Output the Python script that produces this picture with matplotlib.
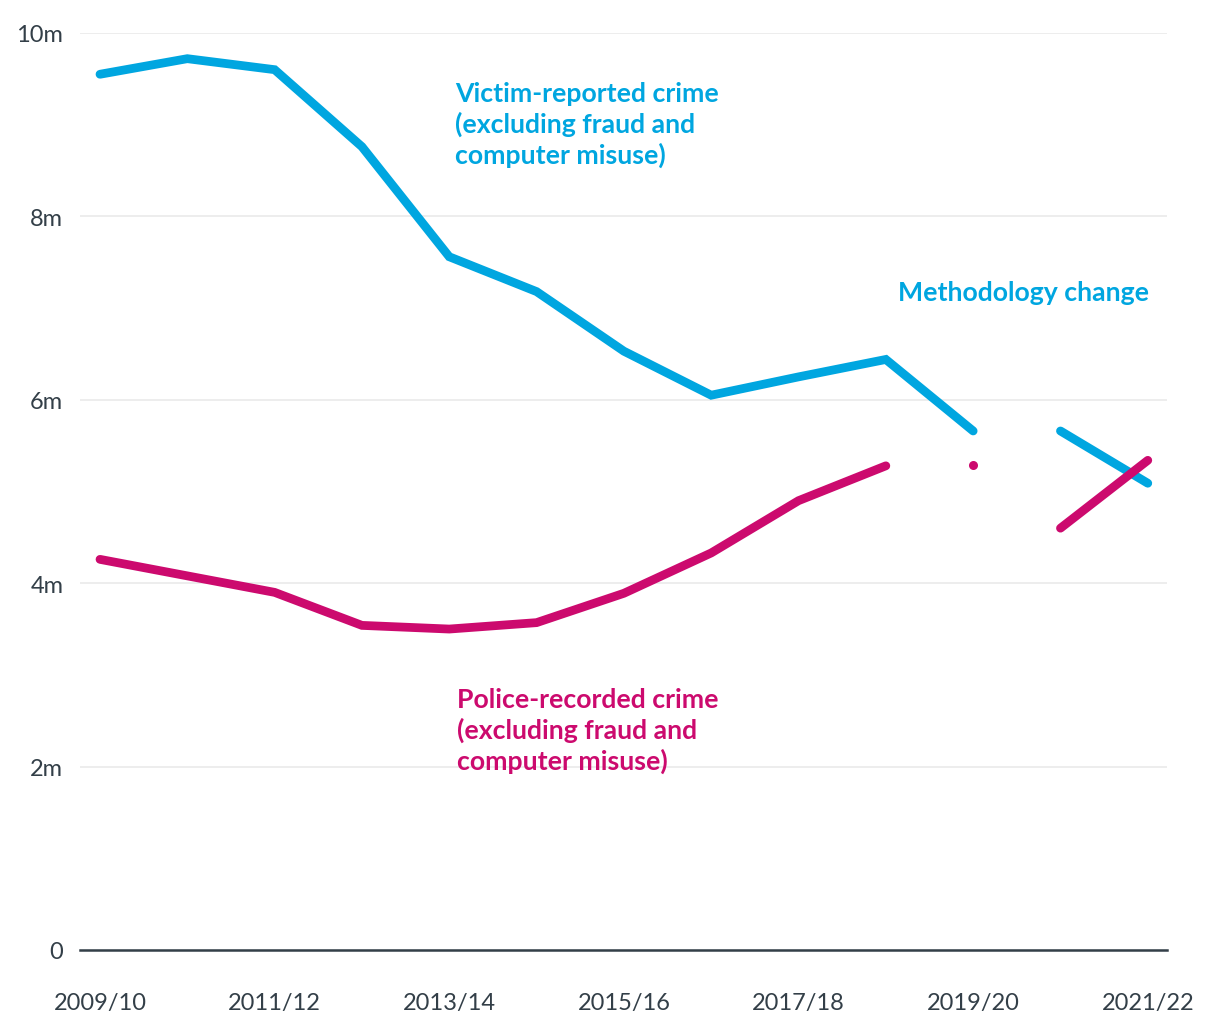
import matplotlib
matplotlib.use("Agg")
import matplotlib.pyplot as plt
import numpy as np

years = ["2009/10", "2010/11", "2011/12", "2012/13", "2013/14", "2014/15", "2015/16",
         "2016/17", "2017/18", "2018/19", "2019/20", "2020/21", "2021/22"]
victim = [9.55, 9.72, 9.60, 8.76, 7.56, 7.18, 6.53, 6.05, 6.25, 6.44, 5.66, 5.66, 5.09]
police = [4.26, 4.08, 3.90, 3.54, 3.50, 3.57, 3.89, 4.33, 4.90, 5.28, 5.29, 4.60, 5.34]
# continuous runs (start index, end index exclusive)
victim_runs = [(0, 11), (11, 13)]
police_runs = [(0, 10), (10, 11), (11, 13)]
yticks = [0, 2, 4, 6, 8, 10]
ytick_labels = ["0", "2m", "4m", "6m", "8m", "10m"]

BLUE = "#00a6e0"
PINK = "#cc0a6e"
DARK = "#333f48"
plt.rcParams["font.family"] = ["Lato", "DejaVu Sans"]

fig = plt.figure(figsize=(12.2, 10.2), dpi=100)
ax = fig.add_axes([80/1220, 69/1020, (1167-80)/1220, (951-34)/1020])

x = np.arange(len(years))
for s, e in victim_runs:
    xs, ys = x[s:e], victim[s:e]
    if e - s == 1:
        ax.plot(xs, ys, "o", color=BLUE, ms=6.5, mew=0, zorder=3)
    else:
        ax.plot(xs, ys, color=BLUE, lw=6.3, solid_capstyle="round", solid_joinstyle="miter", zorder=3)
for s, e in police_runs:
    xs, ys = x[s:e], police[s:e]
    if e - s == 1:
        ax.plot(xs, ys, "o", color=PINK, ms=6.5, mew=0, zorder=3)
    else:
        ax.plot(xs, ys, color=PINK, lw=6.3, solid_capstyle="round", solid_joinstyle="miter", zorder=3)

ax.set_ylim(0, 10)
ax.set_xlim(-0.229, 12.22)
ax.set_yticks(yticks)
ax.set_yticklabels(ytick_labels)
ax.set_xticks(x[::2])
ax.set_xticklabels(years[::2])
for sp in ["top", "right", "left"]:
    ax.spines[sp].set_visible(False)
ax.spines["bottom"].set_color(DARK)
ax.spines["bottom"].set_linewidth(1.8)
ax.tick_params(axis="both", length=0, colors=DARK, labelsize=17)
ax.tick_params(axis="y", pad=12)
ax.tick_params(axis="x", pad=30)
for t in ax.get_xticklabels() + ax.get_yticklabels():
    t.set_color(DARK)
ax.grid(axis="y", color="#ececec", lw=1.3)
ax.set_axisbelow(True)

ax.text(4.065, 9.01, "Victim-reported crime\n(excluding fraud and\ncomputer misuse)",
        color=BLUE, fontsize=19.2, fontweight="bold", va="center", ha="left", linespacing=1.27)
ax.text(9.14, 7.18, "Methodology change", color=BLUE, fontsize=19.2, fontweight="bold",
        va="center", ha="left")
ax.text(4.09, 2.40, "Police-recorded crime\n(excluding fraud and\ncomputer misuse)",
        color=PINK, fontsize=19.2, fontweight="bold", va="center", ha="left", linespacing=1.27)

fig.savefig("out.png", dpi=100, facecolor="white")
